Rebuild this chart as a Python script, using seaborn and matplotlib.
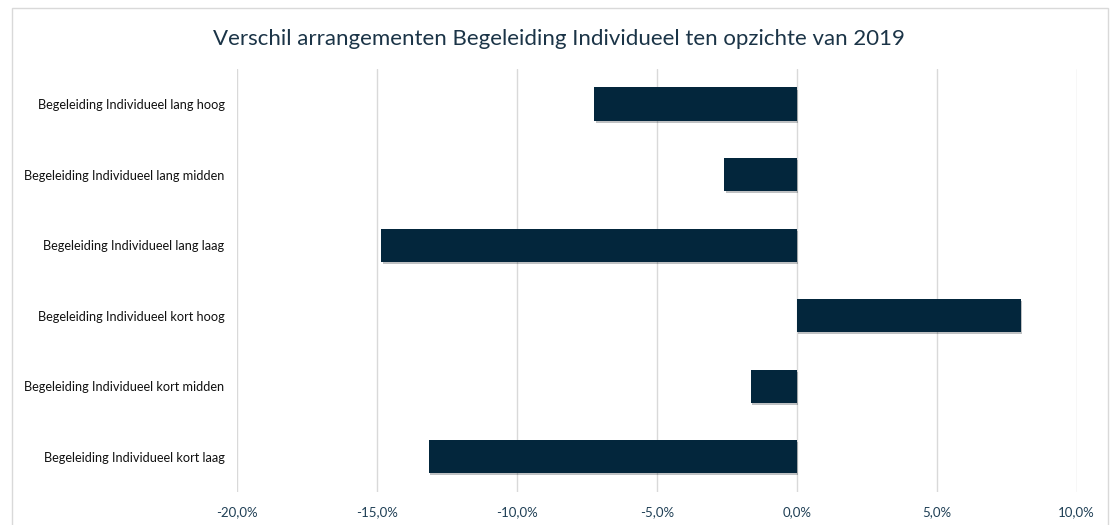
import pandas as pd
import seaborn as sns
import matplotlib.pyplot as plt
import matplotlib.patheffects as pe
from matplotlib.patches import Rectangle
from matplotlib.ticker import FuncFormatter

# Daten
categorieen = [
    'Begeleiding Individueel lang hoog',
    'Begeleiding Individueel lang midden',
    'Begeleiding Individueel lang laag',
    'Begeleiding Individueel kort hoog',
    'Begeleiding Individueel kort midden',
    'Begeleiding Individueel kort laag',
]
verschil = [-7.25, -2.6, -14.85, 8.0, -1.65, -13.15]
x_ticks = [-20, -15, -10, -5, 0, 5, 10]

df = pd.DataFrame({'Arrangement': categorieen, 'Verschil': verschil})

sns.set_style('white')
plt.rcParams['font.family'] = ['Lato', 'DejaVu Sans']

fig = plt.figure(figsize=(11.18, 5.25), dpi=100)
ax = fig.add_axes([0.212, 0.063, 0.751, 0.806])

# rand om de grafiek
fig.patches.append(Rectangle((0.011, -0.05), 0.98, 1.035, transform=fig.transFigure,
                             fill=False, edgecolor='#d9d9d9', linewidth=1.0))

sns.barplot(data=df, x='Verschil', y='Arrangement', orient='h', color='#03263c',
            width=0.47, saturation=1, linewidth=0, ax=ax, zorder=3)
for bar in ax.patches:
    bar.set_linewidth(0)
    bar.set_path_effects([pe.SimplePatchShadow(offset=(1.2, -1.5), alpha=0.25), pe.Normal()])

ax.set_xlim(-20, 10)
ax.set_xticks(x_ticks)
ax.xaxis.set_major_formatter(FuncFormatter(lambda v, p: f"{v:.1f}%".replace('.', ',')))
ax.grid(axis='x', color='#d9d9d9', linewidth=1.0, zorder=0)
ax.set_axisbelow(True)
for s in ax.spines.values():
    s.set_visible(False)
ax.set_xlabel('')
ax.set_ylabel('')
ax.tick_params(axis='x', labelsize=9.5, labelcolor='#1f3f55', length=0, pad=10)
ax.tick_params(axis='y', labelsize=9.15, labelcolor='#111111', length=0, pad=9)

fig.text(0.5, 0.925, 'Verschil arrangementen Begeleiding Individueel ten opzichte van 2019',
         ha='center', va='center', fontsize=16, color='#1b3447')

fig.savefig('out.png', dpi=100)
